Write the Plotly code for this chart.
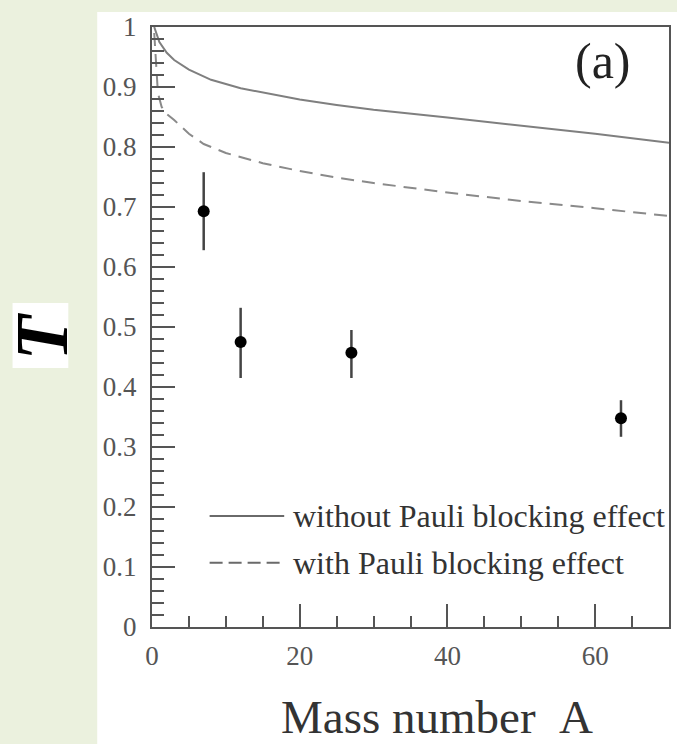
import plotly.graph_objects as go

# Measured transmission T versus mass number A
mass_number = [7, 12, 27, 63.5]
transparency = [0.693, 0.475, 0.457, 0.348]
err_up = [0.065, 0.057, 0.038, 0.030]
err_down = [0.065, 0.060, 0.042, 0.031]

# Calculation without Pauli blocking
a_nopauli = [0.3, 1, 2, 3, 5, 8, 12, 16, 20, 25, 30, 40, 50, 60, 70]
t_nopauli = [1.0, 0.975, 0.957, 0.945, 0.929, 0.912, 0.898, 0.888, 0.879,
             0.870, 0.862, 0.849, 0.836, 0.822, 0.807]

# Calculation with Pauli blocking
a_pauli = [0.3, 0.8, 1.3, 2, 3, 5, 7, 10, 15, 20, 25, 30, 40, 50, 60, 70]
t_pauli = [0.99, 0.89, 0.867, 0.855, 0.845, 0.822, 0.805, 0.79, 0.773,
           0.760, 0.749, 0.740, 0.724, 0.710, 0.698, 0.685]

x_ticks = [0, 20, 40, 60]
y_ticks = [0, 0.1, 0.2, 0.3, 0.4, 0.5, 0.6, 0.7, 0.8, 0.9, 1]

W, H = 677, 744
L, R, T_, B = 152, 6, 27, 117
PW, PH = W - L - R, H - T_ - B


def px(x):
    return (x - L) / PW


def py(y):
    return (H - B - y) / PH


SERIF = "Liberation Serif, Times New Roman, serif"
AX = "#555555"

fig = go.Figure()

fig.add_trace(go.Scatter(x=a_nopauli, y=t_nopauli, mode="lines",
                         line=dict(color="#7f7f7f", width=2), showlegend=False))
fig.add_trace(go.Scatter(x=a_pauli, y=t_pauli, mode="lines",
                         line=dict(color="#8a8a8a", width=2, dash="13px,8px"),
                         showlegend=False))
fig.add_trace(go.Scatter(
    x=mass_number, y=transparency, mode="markers",
    marker=dict(color="black", size=12),
    error_y=dict(type="data", array=err_up, arrayminus=err_down,
                 color="#444444", thickness=2.5, width=0),
    showlegend=False))

# white panel behind the plot
fig.add_shape(type="rect", xref="paper", yref="paper",
              x0=px(97), x1=px(680), y0=py(12), y1=py(750),
              fillcolor="white", line=dict(width=0), layer="below")
# white box behind the y label
fig.add_shape(type="rect", xref="paper", yref="paper",
              x0=px(12), x1=px(68), y0=py(303), y1=py(368),
              fillcolor="white", line=dict(width=0), layer="below")

# legend keys
fig.add_shape(type="line", xref="x", yref="y", x0=7.8, x1=17.9, y0=0.185, y1=0.185,
              line=dict(color="#6a6a6a", width=2))
fig.add_shape(type="line", xref="x", yref="y", x0=7.8, x1=17.9, y0=0.107, y1=0.107,
              line=dict(color="#6a6a6a", width=2, dash="13px,6px"))

fig.add_annotation(x=18.8, y=0.185, xref="x", yref="y", xanchor="left", yanchor="middle",
                   text="without Pauli blocking effect", showarrow=False,
                   font=dict(family=SERIF, size=32, color="#333333"))
fig.add_annotation(x=18.8, y=0.107, xref="x", yref="y", xanchor="left", yanchor="middle",
                   text="with Pauli blocking effect", showarrow=False,
                   font=dict(family=SERIF, size=32, color="#333333"))

fig.add_annotation(x=px(605), y=py(61), xref="paper", yref="paper",
                   xanchor="center", yanchor="middle",
                   text="(a)", showarrow=False,
                   font=dict(family=SERIF, size=50, color="#222222"))

fig.add_annotation(x=px(438), y=py(717), xref="paper", yref="paper",
                   xanchor="center", yanchor="middle",
                   text="Mass number&nbsp;&nbsp;A", showarrow=False,
                   font=dict(family=SERIF, size=47, color="#333333"))

fig.add_annotation(x=px(42), y=py(336), xref="paper", yref="paper",
                   xanchor="center", yanchor="middle", borderpad=0,
                   text="<b><i>T</i></b>", textangle=-90, showarrow=False,
                   font=dict(family=SERIF, size=74, color="black"))

fig.update_layout(
    width=W, height=H,
    margin=dict(l=L, r=R, t=T_, b=B),
    paper_bgcolor="#ebf1de",
    plot_bgcolor="white",
    showlegend=False,
)

fig.update_xaxes(
    range=[0, 70], tickvals=x_ticks, ticks="inside", ticklen=23, tickwidth=1.5,
    tickcolor=AX, showline=True, linecolor=AX, linewidth=2, mirror=True,
    showgrid=False, zeroline=False, ticklabelstandoff=4,
    tickfont=dict(family=SERIF, size=27, color="#555555"),
    minor=dict(dtick=5, tick0=0, ticks="inside", ticklen=11, tickwidth=1.5,
               tickcolor=AX, showgrid=False),
)
fig.update_yaxes(
    range=[0, 1], tickvals=y_ticks, ticks="inside", ticklen=23, tickwidth=1.5,
    tickcolor=AX, showline=True, linecolor=AX, linewidth=2, mirror=True,
    showgrid=False, zeroline=False, ticklabelstandoff=8,
    tickfont=dict(family=SERIF, size=27, color="#555555"),
    minor=dict(dtick=0.02, tick0=0, ticks="inside", ticklen=12, tickwidth=1.5,
               tickcolor=AX, showgrid=False),
)

fig.write_html("out.html")
